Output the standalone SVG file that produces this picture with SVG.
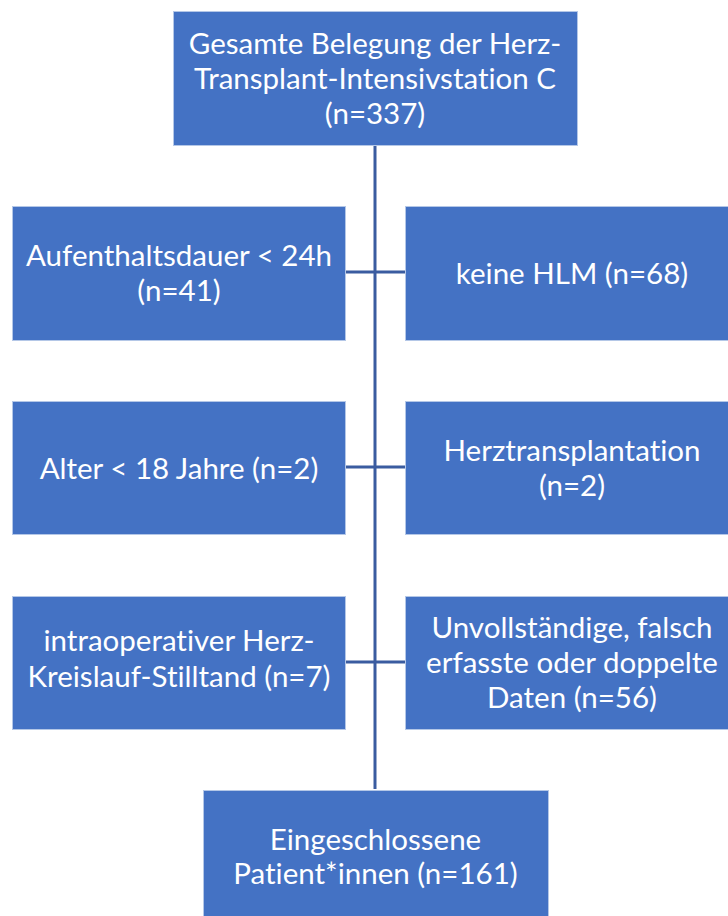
<svg xmlns="http://www.w3.org/2000/svg" width="728" height="916" viewBox="0 0 728 916">
<style>
.box{fill:#4472C4;stroke:#B4C7E7;stroke-width:1}
.t{font-family:Lato,"Open Sans","Liberation Sans",sans-serif;font-size:29.5px;fill:#ffffff;text-anchor:middle;font-variant-ligatures:none}
.c{stroke:#3A5CA0;stroke-width:3;fill:none}
</style>
<rect width="728" height="916" fill="#ffffff"/>
<g id="connectors">
<line class="c" x1="375" y1="145" x2="375" y2="789"/>
<line class="c" x1="345" y1="272" x2="405" y2="272"/>
<line class="c" x1="345" y1="467" x2="405" y2="467"/>
<line class="c" x1="345" y1="662" x2="405" y2="662"/>
</g>
<g id="n-top">
<rect class="box" x="173.5" y="11.5" width="404" height="134"/>
<text class="t" x="375" y="54">Gesamte Belegung der Herz-</text>
<text class="t" x="375" y="89">Transplant-Intensivstation C</text>
<text class="t" x="375" y="124">(n=337)</text>
</g>
<g id="n-aufenthalt">
<rect class="box" x="12.5" y="206.5" width="333" height="134"/>
<text class="t" x="179" y="266">Aufenthaltsdauer &lt; 24h</text>
<text class="t" x="179" y="301">(n=41)</text>
</g>
<g id="n-hlm">
<rect class="box" x="405.5" y="206.5" width="333" height="134"/>
<text class="t" x="572" y="284">keine HLM (n=68)</text>
</g>
<g id="n-alter">
<rect class="box" x="12.5" y="401.5" width="333" height="133"/>
<text class="t" x="179" y="479">Alter &lt; 18 Jahre (n=2)</text>
</g>
<g id="n-htx">
<rect class="box" x="405.5" y="401.5" width="333" height="133"/>
<text class="t" x="572" y="461">Herztransplantation</text>
<text class="t" x="572" y="496">(n=2)</text>
</g>
<g id="n-stillstand">
<rect class="box" x="12.5" y="596.5" width="333" height="133"/>
<text class="t" x="179" y="651">intraoperativer Herz-</text>
<text class="t" x="179" y="687">Kreislauf-Stilltand (n=7)</text>
</g>
<g id="n-daten">
<rect class="box" x="405.5" y="596.5" width="333" height="133"/>
<text class="t" x="572" y="638">Unvollständige, falsch</text>
<text class="t" x="572" y="673">erfasste oder doppelte</text>
<text class="t" x="572" y="708">Daten (n=56)</text>
</g>
<g id="n-eingeschlossen">
<rect class="box" x="203.5" y="790.5" width="345" height="134"/>
<text class="t" x="375.5" y="850">Eingeschlossene</text>
<text class="t" x="375.5" y="884">Patient*innen (n=161)</text>
</g>
</svg>
